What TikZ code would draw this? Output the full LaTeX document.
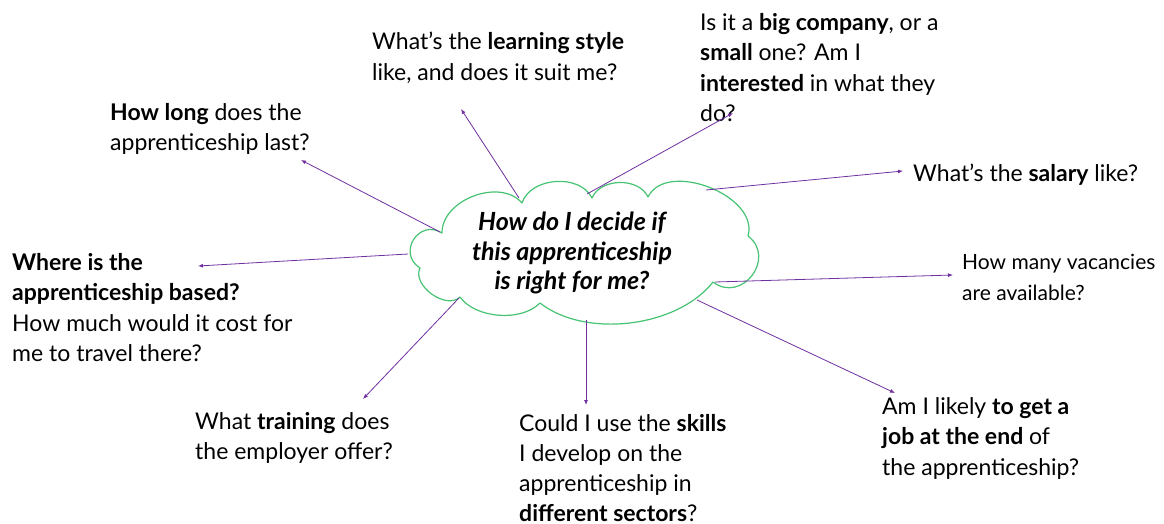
\documentclass[tikz,border=0pt]{standalone}
\usepackage{fontspec}
\setmainfont{Lato}
\usetikzlibrary{arrows.meta,calc}
\definecolor{arrowpurple}{RGB}{112,48,160}
\definecolor{cloudgreen}{RGB}{70,195,115}
\begin{document}
\begin{tikzpicture}[x=1pt,y=-1pt,
  txt/.style={anchor=north west,inner sep=0pt,align=left,font=\fontsize{23}{30.5}\selectfont},
  conn/.style={draw=arrowpurple,line width=0.8pt,-{Latex[length=5pt,width=4pt]}},
  cloudline/.style={draw=cloudgreen,line width=1.2pt,line join=round}]
\useasboundingbox[fill=white] (0,0) rectangle (1164,524);
% cloud
\coordinate (cl) at (586,253);
\draw[cloudline,fill=white]
  (442,233) to[bend left=70] (522,203)
            to[bend left=68] (592,198)
            to[bend left=66] (648,197)
            to[bend left=85] (748,236)
            to[bend left=90,looseness=1.6] (713,282)
            to[bend left=45,looseness=0.85] (540,303)
            to[bend left=50,looseness=0.85] (460,297)
            to[bend left=80] (420,268)
            to[bend left=90,looseness=1.7] cycle;
\node[font=\fontsize{25}{29.5}\selectfont\bfseries\itshape,align=center,anchor=north,inner sep=0pt]
  (q) at (572,212) {How do I decide if\\this apprenticeship\\is right for me?};

\node[txt] (tlong) at (110,103) {\textbf{How long} does the\\apprenticeship last?};
\node[txt] (twhere) at (12,253) {\textbf{Where is the}\\\textbf{apprenticeship based?}\\How much would it cost for\\me to travel there?};
\node[txt] (tlearn) at (372,32) {What’s the \textbf{learning style}\\like, and does it suit me?};
\node[txt] (tbig) at (700,13) {Is it a \textbf{big company}, or a\\\textbf{small} one? Am I\\\textbf{interested} in what they\\do?};
\node[txt] (tsal) at (913,164) {What’s the \textbf{salary} like?};
\node[txt,font=\fontsize{21}{30.5}\selectfont] (tvac) at (962,254) {How many vacancies\\are available?};
\node[txt] (tjob) at (882,397) {Am I likely \textbf{to get a}\\\textbf{job at the end} of\\the apprenticeship?};
\node[txt,font=\fontsize{23}{30}\selectfont] (tskill) at (519,414) {Could I use the \textbf{skills}\\I develop on the\\apprenticeship in\\\textbf{different sectors}?};
\node[txt] (ttrain) at (195,412) {What \textbf{training} does\\the employer offer?};

% connector start points on the cloud outline
\coordinate (s1) at ($(cl)+(-146,-21)$);
\coordinate (s2) at ($(cl)+(-178,1)$);
\coordinate (s3) at ($(cl)+(-67,-55)$);
\coordinate (s4) at ($(cl)+(1,-59)$);
\coordinate (s5) at ($(cl)+(120,-63)$);
\coordinate (s6) at ($(cl)+(129,29)$);
\coordinate (s7) at ($(cl)+(111,47)$);
\coordinate (s8) at ($(cl)+(0,67)$);
\coordinate (s9) at ($(cl)+(-127,45)$);
% connector tips
\coordinate (e1) at (301,160);
\coordinate (e2) at (198,266);
\coordinate (e3) at (461,109);
\coordinate (e4) at (733,113);
\coordinate (e5) at (903,171);
\coordinate (e6) at (953,275);
\coordinate (e7) at (895,393);
\coordinate (e8) at (586,405);
\coordinate (e9) at (363,399);

\draw[conn] (s1) -- (e1);
\draw[conn] (s2) -- (e2);
\draw[conn] (s3) -- (e3);
\draw[conn] (s4) -- (e4);
\draw[conn] (s5) -- (e5);
\draw[conn] (s6) -- (e6);
\draw[conn] (s7) -- (e7);
\draw[conn] (s8) -- (e8);
\draw[conn] (s9) -- (e9);
\end{tikzpicture}
\end{document}
